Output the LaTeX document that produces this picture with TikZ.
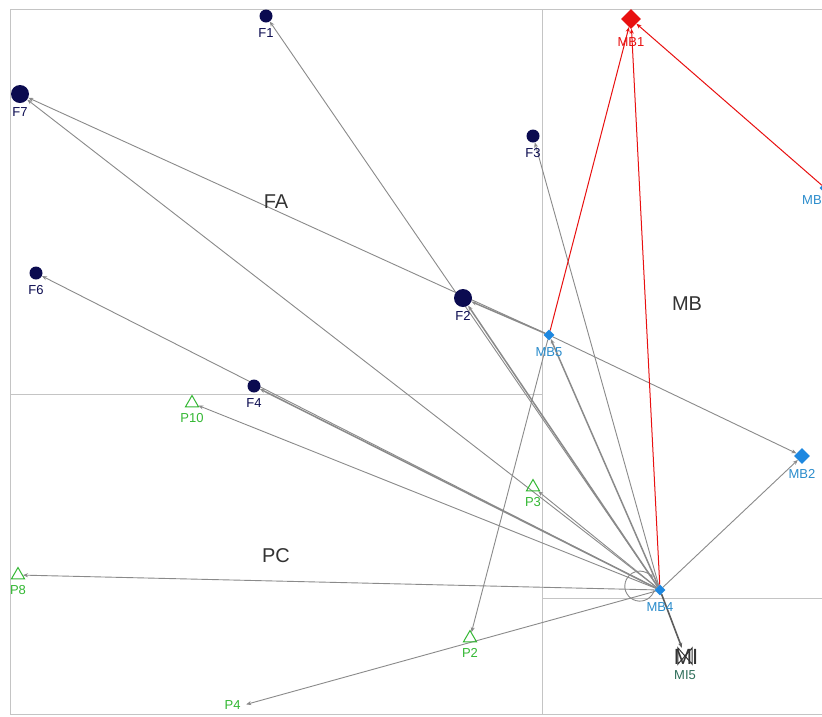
\documentclass[tikz,border=0pt]{standalone}
\usepackage{fontspec}
\setmainfont{Liberation Sans}
\usetikzlibrary{shapes.geometric,arrows.meta,backgrounds}
\definecolor{fnavy}{HTML}{0B0B50}
\definecolor{mbblue}{HTML}{1E88E0}
\definecolor{mblabel}{HTML}{2A8CCC}
\definecolor{mbred}{HTML}{E81010}
\definecolor{pgreen}{HTML}{33B833}
\definecolor{edgegrey}{HTML}{8A8A8A}
\definecolor{gridgrey}{HTML}{C4C4C4}
\definecolor{regiongrey}{HTML}{333333}
\definecolor{miteal}{HTML}{2E6E5A}
\tikzset{
  lbl/.style={font=\fontsize{13}{13}\selectfont},
  fnode/.style={circle,fill=fnavy,inner sep=0pt,minimum size=13pt,
    label={[lbl,text=fnavy,label distance=2pt]below:#1}},
  fbig/.style={circle,fill=fnavy,inner sep=0pt,minimum size=18pt,
    label={[lbl,text=fnavy,label distance=1pt]below:#1}},
  mbnode/.style={diamond,fill=mbblue,inner sep=0pt,minimum size=11pt,
    label={[lbl,text=mblabel,label distance=3pt]below:#1}},
  mbmid/.style={diamond,fill=mbblue,inner sep=0pt,minimum size=16pt,
    label={[lbl,text=mblabel,label distance=2pt]below:#1}},
  mbred/.style={diamond,fill=mbred,inner sep=0pt,minimum size=20pt,
    label={[lbl,text=mbred,label distance=5pt]below:#1}},
  pnode/.style={regular polygon,regular polygon sides=3,draw=pgreen,line width=1pt,
    inner sep=0pt,minimum size=15pt,
    label={[lbl,text=pgreen,label distance=3pt]below:#1}},
  region/.style={text=regiongrey,font=\fontsize{20}{20}\selectfont},
  gridline/.style={draw=gridgrey,line width=0.9pt},
  edge/.style={draw=edgegrey,line width=0.9pt,-{Stealth[length=5pt,width=4pt]}},
  thickedge/.style={edge,line width=1.5pt},
  redge/.style={draw=mbred,line width=1pt,-{Stealth[length=5pt,width=4pt]}},
}
\begin{document}
\begin{tikzpicture}[x=1pt,y=-1pt]
\useasboundingbox (0,0) rectangle (822,716);
\begin{scope}
\clip (0,0) rectangle (822,716);
% nodes
\node[fnode=F1] (F1) at (266,16) {};
\node[fbig=F7] (F7) at (20,94) {};
\node[fnode=F3] (F3) at (533,136) {};
\node[fnode=F6] (F6) at (36,273) {};
\node[fbig=F2] (F2) at (463,298) {};
\node[fnode=F4] (F4) at (254,386) {};
\node[mbred=MB1] (MB1) at (631,19) {};
\node[diamond,fill=mbblue,inner sep=0pt,minimum size=11pt] (MB3) at (825,188) {};
\node[lbl,text=mblabel,anchor=west,inner sep=0pt] (MB3l) at (802,200) {MB3};
\node[mbnode=MB5] (MB5) at (549,335) {};
\node[mbmid=MB2] (MB2) at (802,456) {};
\node[mbnode=MB4] (MB4) at (660,590) {};
\node[pnode=P10] (P10) at (192,403) {};
\node[pnode=P3] (P3) at (533,487) {};
\node[pnode=P8] (P8) at (18,575) {};
\node[pnode=P2] (P2) at (470,638) {};
\node[inner sep=0pt,minimum size=4pt] (P4m) at (244,705) {};
\node[lbl,text=pgreen,anchor=east,inner sep=1pt] (P4) at (P4m.west) {P4};
\node[region] (FA) at (276,202) {FA};
\node[region] (MBr) at (687,304) {MB};
\node[region] (PC) at (276,556) {PC};
\node[region,font=\fontsize{22}{22}\selectfont] (MI) at (686,657) {MI};
\node[inner sep=0pt,minimum width=14pt,minimum height=16pt] (MI5) at (685,656) {};
\draw[regiongrey,line width=1pt] (MI5.north west) -- (MI5.south east) -- (MI5.north east) -- (MI5.south west) -- cycle;
\node[lbl,text=miteal,anchor=north,inner sep=1pt] (MI5l) at ([yshift=-5pt]MI5.south) {MI5};
% background: grid and edges
\begin{scope}[on background layer]
\fill[white] (0,0) rectangle (822,716);
\draw[gridline] (10,714) -- (10,9) -- (822,9);
\draw[gridline] (10,714) -- (822,714);
\draw[gridline] (542,9) -- (542,714);
\draw[gridline] (10,394) -- (542,394);
\draw[gridline] (542,598) -- (822,598);
% edges from MB5
\draw[edge] (MB5) -- (F7);
\draw[thickedge] (MB5) -- (F2);
\draw[edge] (MB5) -- (MB2);
\draw[edge] (MB5) -- (P2);
% edges from MB4
\draw[edge] (MB4) -- (F1);
\draw[thickedge] (MB4) -- (F2);
\draw[edge] (MB4) -- (F3);
\draw[edge] (MB4) -- (F6);
\draw[thickedge] (MB4) -- (F4);
\draw[edge] (MB4) -- (F7);
\draw[edge] (MB4) -- (P10);
\draw[edge] (MB4) -- (P3);
\draw[edge] (MB4) -- (P8);
\draw[edge] (MB4) -- (P4m);
\draw[thickedge] (MB4) -- (MB5);
\draw[edge] (MB4) -- (MB2);
\draw[draw=regiongrey!80,line width=1.6pt,-{Stealth[length=5pt,width=4pt]}] (MB4) -- (MI5);
\draw[edge] (MB4.west) arc[start angle=-15, end angle=-330, radius=15pt];
% red edges
\draw[redge] (MB5) -- (MB1);
\draw[redge] (MB4) -- (MB1);
\draw[redge] (MB3) -- (MB1);
\end{scope}
\end{scope}
\end{tikzpicture}
\end{document}
